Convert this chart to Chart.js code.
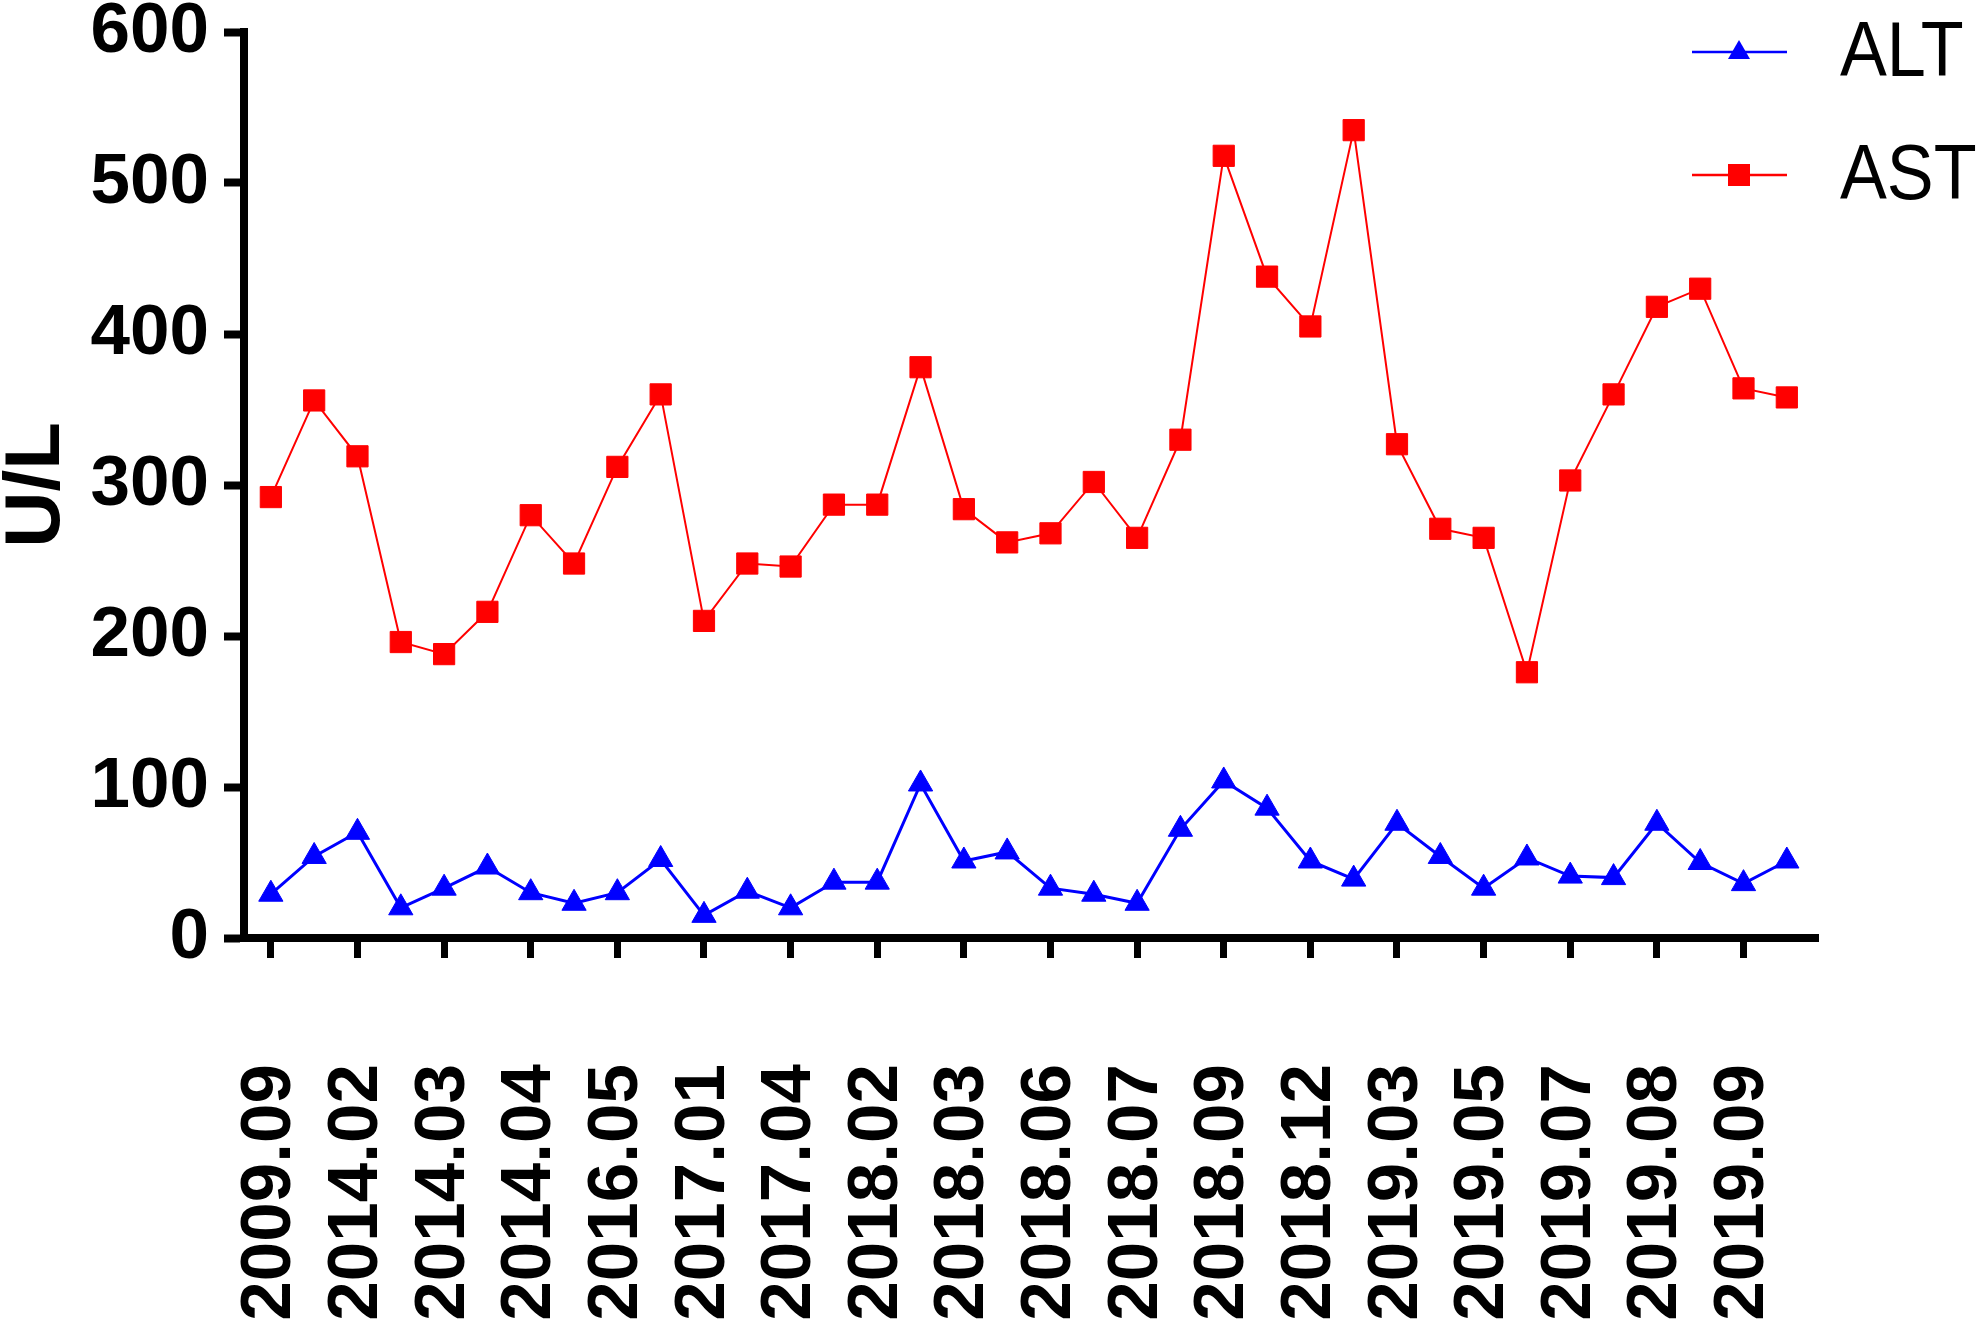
<!DOCTYPE html>
<html>
<head>
<meta charset="utf-8">
<title>ALT / AST</title>
<script src="https://cdn.jsdelivr.net/npm/chart.js"></script>
<style>
  html, body { margin: 0; padding: 0; background: #fff; }
  #wrap { width: 1984px; height: 1320px; }
</style>
</head>
<body>
<div id="wrap"><canvas id="c" width="1984" height="1320"></canvas></div>
<script>
// tick labels (one every second sample)
const dates = ['2009.09', '2014.02', '2014.03', '2014.04', '2016.05', '2017.01', '2017.04', '2018.02', '2018.03',
               '2018.06', '2018.07', '2018.09', '2018.12', '2019.03', '2019.05', '2019.07', '2019.08', '2019.09'];

// 36 samples each
const alt = [29, 54, 70, 20, 33, 47, 30, 23, 30, 52, 15, 31, 20, 37, 37, 102, 51, 57,
             33, 29, 23, 72, 104, 86, 51, 39, 76, 54, 33, 53, 41, 40, 76, 50, 36, 51];
const ast = [292, 356, 319, 196, 188, 216, 280, 248, 312, 360, 210, 248, 246, 287, 287, 378, 284, 262,
             268, 302, 265, 330, 518, 438, 405, 535, 327, 271, 265, 176, 303, 360, 418, 430, 364, 358];

const yTicks = [0, 100, 200, 300, 400, 500, 600];

const FONT = '"Liberation Sans", Arial, sans-serif';

const toPoints = arr => arr.map((v, i) => ({ x: i, y: v }));

// legend drawn by hand: line through the marker, like the original
const legendPlugin = {
  id: 'sideLegend',
  afterDraw(chart) {
    const ctx = chart.ctx;
    const rows = [52, 175];
    chart.data.datasets.forEach((ds, i) => {
      const y = rows[i];
      ctx.save();
      ctx.strokeStyle = ds.borderColor;
      ctx.lineWidth = 2.5;
      ctx.beginPath();
      ctx.moveTo(1692, y);
      ctx.lineTo(1787, y);
      ctx.stroke();
      ctx.fillStyle = ds.backgroundColor;
      const cx = 1739;
      if (ds.pointStyle === 'triangle') {
        ctx.beginPath();
        ctx.moveTo(cx, y - 12);
        ctx.lineTo(cx + 11, y + 7);
        ctx.lineTo(cx - 11, y + 7);
        ctx.closePath();
        ctx.fill();
      } else {
        ctx.fillRect(cx - 11, y - 11, 22, 22);
      }
      ctx.fillStyle = '#000';
      ctx.font = '78px ' + FONT;
      ctx.textBaseline = 'middle';
      ctx.translate(1840, y + 2);
      ctx.scale(0.9, 1);
      ctx.fillText(ds.label, 0, 0);
      ctx.restore();
    });
  }
};

new Chart(document.getElementById('c'), {
  type: 'line',
  data: {
    datasets: [
      {
        label: 'ALT',
        data: toPoints(alt),
        borderColor: '#0000ff',
        backgroundColor: '#0000ff',
        borderWidth: 3,
        pointStyle: 'triangle',
        pointRadius: 14,
        pointBorderWidth: 1,
        tension: 0
      },
      {
        label: 'AST',
        data: toPoints(ast),
        borderColor: '#ff0000',
        backgroundColor: '#ff0000',
        borderWidth: 2,
        pointStyle: 'rect',
        pointRadius: 15,
        pointBorderWidth: 1,
        tension: 0
      }
    ]
  },
  options: {
    responsive: false,
    animation: false,
    layout: { padding: { top: 32, right: 166, left: 0, bottom: 0 } },
    plugins: { legend: { display: false }, tooltip: { enabled: false } },
    scales: {
      x: {
        type: 'linear',
        min: -0.62,
        max: 35.72,
        afterBuildTicks: axis => { axis.ticks = dates.map((d, k) => ({ value: 2 * k })); },
        afterFit: axis => { axis.height = 382; },
        grid: { drawOnChartArea: false, drawTicks: true, tickLength: 20, tickWidth: 7, tickColor: '#000' },
        border: { display: true, width: 8, color: '#000' },
        ticks: {
          autoSkip: false,
          minRotation: 90,
          maxRotation: 90,
          padding: 106,
          color: '#000',
          font: { family: FONT, size: 71, weight: 'bold', lineHeight: 1 },
          callback: v => dates[v / 2]
        }
      },
      y: {
        min: 0,
        max: 600,
        afterBuildTicks: axis => { axis.ticks = yTicks.map(v => ({ value: v })); },
        afterFit: axis => { axis.width = 244; },
        grid: { drawOnChartArea: false, drawTicks: true, tickLength: 20, tickWidth: 8, tickColor: '#000' },
        border: { display: true, width: 8, color: '#000' },
        ticks: {
          padding: 15,
          color: '#000',
          font: { family: FONT, size: 71, weight: 'bold', lineHeight: 0.4 }
        },
        title: {
          display: true,
          text: 'U/L',
          color: '#000',
          padding: 0,
          font: { family: FONT, size: 78, weight: 'bold', lineHeight: 0.95 }
        }
      }
    }
  },
  plugins: [legendPlugin]
});
</script>
</body>
</html>
